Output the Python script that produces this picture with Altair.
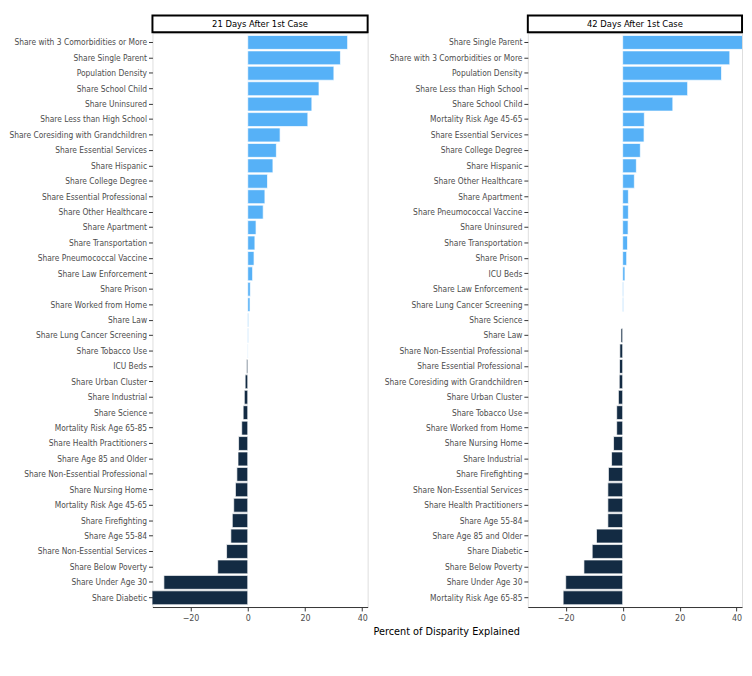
import altair as alt
import pandas as pd

# ---- data ----
names_21 = [
    "Share with 3 Comorbidities or More", "Share Single Parent", "Population Density",
    "Share School Child", "Share Uninsured", "Share Less than High School",
    "Share Coresiding with Grandchildren", "Share Essential Services", "Share Hispanic",
    "Share College Degree", "Share Essential Professional", "Share Other Healthcare",
    "Share Apartment", "Share Transportation", "Share Pneumococcal Vaccine",
    "Share Law Enforcement", "Share Prison", "Share Worked from Home", "Share Law",
    "Share Lung Cancer Screening", "Share Tobacco Use", "ICU Beds", "Share Urban Cluster",
    "Share Industrial", "Share Science", "Mortality Risk Age 65-85",
    "Share Health Practitioners", "Share Age 85 and Older", "Share Non-Essential Professional",
    "Share Nursing Home", "Mortality Risk Age 45-65", "Share Firefighting",
    "Share Age 55-84", "Share Non-Essential Services", "Share Below Poverty",
    "Share Under Age 30", "Share Diabetic",
]
values_21 = [
    34.9, 32.4, 30.1, 24.9, 22.4, 21.0, 11.3, 10.0, 8.8, 6.9, 6.0, 5.4, 2.9, 2.5, 2.2,
    1.7, 0.9, 0.8, 0.3, 0.2, 0.1, -0.4, -0.9, -1.2, -1.6, -2.1, -3.2, -3.4, -3.8, -4.3,
    -4.9, -5.4, -5.9, -7.4, -10.5, -29.3, -35.0,
]

names_42 = [
    "Share Single Parent", "Share with 3 Comorbidities or More", "Population Density",
    "Share Less than High School", "Share School Child", "Mortality Risk Age 45-65",
    "Share Essential Services", "Share College Degree", "Share Hispanic",
    "Share Other Healthcare", "Share Apartment", "Share Pneumococcal Vaccine",
    "Share Uninsured", "Share Transportation", "Share Prison", "ICU Beds",
    "Share Law Enforcement", "Share Lung Cancer Screening", "Share Science", "Share Law",
    "Share Non-Essential Professional", "Share Essential Professional",
    "Share Coresiding with Grandchildren", "Share Urban Cluster", "Share Tobacco Use",
    "Share Worked from Home", "Share Nursing Home", "Share Industrial",
    "Share Firefighting", "Share Non-Essential Services", "Share Health Practitioners",
    "Share Age 55-84", "Share Age 85 and Older", "Share Diabetic", "Share Below Poverty",
    "Share Under Age 30", "Mortality Risk Age 65-85",
]
values_42 = [
    43.0, 37.6, 34.7, 22.8, 17.6, 7.6, 7.5, 6.2, 4.8, 4.1, 2.0, 2.0, 1.9, 1.7, 1.4, 0.8,
    0.3, 0.3, 0.0, -0.6, -1.0, -1.1, -1.2, -1.5, -2.1, -2.1, -3.2, -3.9, -5.0, -5.2,
    -5.2, -5.2, -9.2, -10.7, -13.6, -20.0, -20.9,
]

x_ticks = [-20, 0, 20, 40]
x_domain = [-33.3, 41.9]
titles = ["21 Days After 1st Case", "42 Days After 1st Case"]
x_title = "Percent of Disparity Explained"

FONT = "DejaVu Sans Condensed, Liberation Sans, sans-serif"
POS, NEG = "#56B1F7", "#132B43"
H = 584
LBL = 8.5


def panel(names, values, title, width):
    df = pd.DataFrame({"name": names, "value": values})
    df["sign"] = ["pos" if v >= 0 else "neg" for v in values]
    xaxis = alt.Axis(
        values=x_ticks, grid=False, domainColor="#333333", tickColor="#333333",
        tickSize=4, labelColor="#4d4d4d", labelFontSize=9, labelFont=FONT,
        labelPadding=3, title=None,
    )
    bars = alt.Chart(df).mark_bar(stroke="white", strokeWidth=0.7, clip=True).encode(
        y=alt.Y(
            "name:N", sort=names,
            scale=alt.Scale(paddingInner=0.1, paddingOuter=0.15),
            axis=alt.Axis(
                title=None, domain=False, tickColor="#333333", tickSize=4,
                labelColor="#4d4d4d", labelFontSize=LBL, labelFont=FONT,
                labelPadding=2, labelLimit=300,
            ),
        ),
        x=alt.X(
            "value:Q", scale=alt.Scale(domain=x_domain, nice=False, zero=False),
            axis=xaxis,
        ),
        color=alt.Color(
            "sign:N", scale=alt.Scale(domain=["pos", "neg"], range=[POS, NEG]),
            legend=None,
        ),
    )
    sdf = pd.DataFrame({"t": [title]})
    strip = alt.Chart(sdf).mark_rect(
        fill="white", stroke="black", strokeWidth=2
    ).encode(
        x=alt.value(0), x2=alt.value(width), y=alt.value(-18), y2=alt.value(-1)
    )
    strip_text = alt.Chart(sdf).mark_text(
        font=FONT, fontSize=9.5, color="black", baseline="middle", align="center"
    ).encode(x=alt.value(width / 2), y=alt.value(-9), text="t:N")
    return alt.layer(strip, bars, strip_text).properties(width=width, height=H)


left = panel(names_21, values_21, titles[0], 219)
right = panel(names_42, values_42, titles[1], 218)

chart = alt.hconcat(left, right, spacing=14).properties(
    padding=0,
    title=alt.TitleParams(
        x_title, orient="bottom", anchor="middle", dx=72, offset=3,
        font=FONT, fontSize=11, fontWeight="normal", color="black",
    ),
).configure_view(stroke=None).configure(background="white")

chart.save("out.html", embed_options={"renderer": "svg", "actions": False})
